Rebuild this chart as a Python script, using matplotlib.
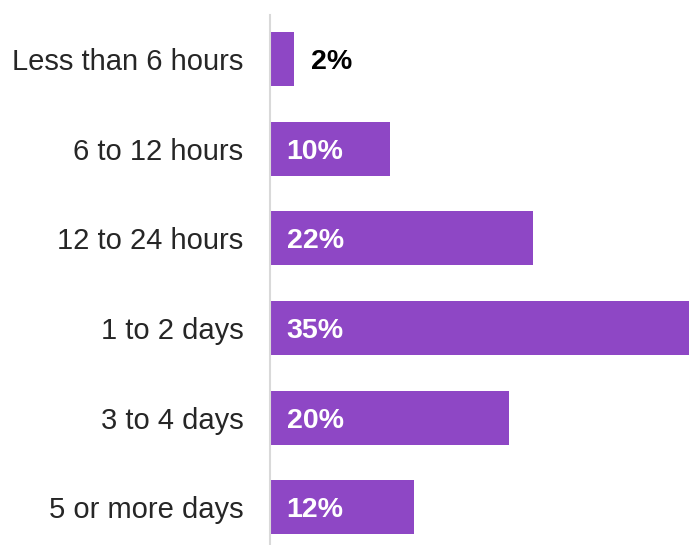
import matplotlib.pyplot as plt

categories = ["Less than 6 hours", "6 to 12 hours", "12 to 24 hours",
              "1 to 2 days", "3 to 4 days", "5 or more days"]
values = [2, 10, 22, 35, 20, 12]
labels = ["2%", "10%", "22%", "35%", "20%", "12%"]

plt.rcParams['font.family'] = ['Liberation Sans', 'DejaVu Sans']

fig = plt.figure(figsize=(6.89, 5.45), dpi=100)
ax = fig.add_axes([270 / 689, 0, 419 / 689, 530 / 545])

pos = list(range(len(categories)))
ax.barh(pos, values, height=0.6, color="#8e47c5")

# small bars get the label outside, in black
for p, v, t in zip(pos, values, labels):
    if v < 5:
        ax.annotate(t, (v, p), xytext=(12, 0), textcoords="offset points",
                    va="center_baseline", ha="left", fontsize=20.5, fontweight="bold", color="black")
    else:
        ax.annotate(t, (0, p), xytext=(12, 0), textcoords="offset points",
                    va="center_baseline", ha="left", fontsize=20.5, fontweight="bold", color="white")

ax.set_xlim(0, 35)
ax.set_ylim(5.42, -0.49)
ax.set_yticks(pos)
ax.set_yticklabels(categories, fontsize=21, color="#262626")
ax.tick_params(axis="y", length=0, pad=19)
ax.set_xticks([])
for s in ["top", "right", "bottom"]:
    ax.spines[s].set_visible(False)
ax.spines["left"].set_color("#d9d9d9")
ax.spines["left"].set_linewidth(1.5)

fig.savefig("out.png", dpi=100)
